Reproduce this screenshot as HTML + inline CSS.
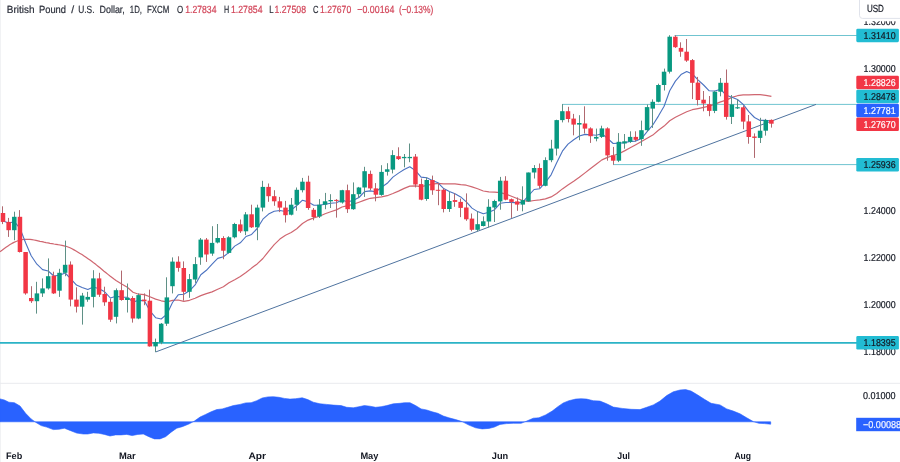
<!DOCTYPE html>
<html lang="en"><head><meta charset="utf-8"><title>GBPUSD chart</title>
<style>html,body{margin:0;padding:0;background:#fff}svg{display:block}text{font-family:"Liberation Sans",sans-serif;text-rendering:geometricPrecision}</style></head><body>
<svg width="900" height="462" viewBox="0 0 900 462">
<rect width="900" height="462" fill="#fff"/>
<rect x="0" y="0" width="1" height="462" fill="#f1f2f4"/>
<rect x="0" y="382.8" width="900" height="1" fill="#e9eaee"/>
<g stroke="#68c1cd" stroke-width="0.95" fill="none">
<line x1="674.5" y1="35.5" x2="857" y2="35.5"/>
<line x1="562" y1="104.4" x2="857" y2="104.4"/>
<line x1="613" y1="164.6" x2="857" y2="164.6"/>
</g>
<line x1="0" y1="342.9" x2="857" y2="342.9" stroke="#2bb3c6" stroke-width="1.9"/>
<line x1="155.6" y1="352" x2="816" y2="104.4" stroke="#4f739f" stroke-width="1"/>
<path d="M0.0,251.8 L2.0,250.3 L4.0,248.7 L6.0,247.3 L8.0,245.9 L10.0,244.6 L12.0,243.4 L14.0,242.4 L16.0,241.5 L18.0,240.7 L20.0,240.1 L22.0,239.7 L24.0,239.4 L26.0,239.3 L28.0,239.3 L30.0,239.4 L32.0,239.7 L34.0,240.0 L36.0,240.4 L38.0,240.8 L40.0,241.3 L42.0,241.7 L44.0,242.2 L46.0,242.6 L48.0,242.9 L50.0,243.3 L52.0,243.6 L54.0,244.0 L56.0,244.3 L58.0,244.7 L60.0,245.0 L62.0,245.4 L64.0,245.8 L66.0,246.3 L68.0,247.0 L70.0,247.8 L72.0,248.8 L74.0,249.9 L76.0,251.0 L78.0,252.2 L80.0,253.4 L82.0,254.6 L84.0,255.9 L86.0,257.3 L88.0,258.7 L90.0,260.1 L92.0,261.5 L94.0,263.1 L96.0,264.6 L98.0,266.2 L100.0,267.8 L102.0,269.5 L104.0,271.2 L106.0,272.8 L108.0,274.4 L110.0,276.0 L112.0,277.5 L114.0,279.0 L116.0,280.4 L121.7,284.1 L127.3,287.3 L133.0,292.2 L138.6,294.2 L144.2,294.6 L149.9,296.8 L155.6,299.1 L161.2,300.8 L166.9,301.8 L172.5,300.3 L178.2,300.0 L183.8,301.3 L189.5,300.3 L195.1,298.3 L200.8,295.6 L206.4,293.6 L212.1,291.9 L217.7,289.2 L223.4,286.8 L229.0,282.8 L234.7,279.7 L240.3,276.4 L246.0,272.5 L251.6,268.1 L257.2,263.9 L262.9,258.5 L268.6,251.3 L274.2,244.6 L279.9,239.1 L285.5,235.2 L291.2,232.5 L296.8,228.8 L302.5,223.5 L308.1,220.1 L313.8,217.9 L319.4,216.2 L325.1,213.7 L330.7,211.7 L336.4,209.9 L342.0,207.0 L347.7,205.7 L353.3,204.3 L359.0,202.2 L364.6,200.1 L370.2,198.3 L375.9,197.7 L381.6,196.9 L387.2,195.7 L392.9,193.5 L398.5,191.1 L404.2,188.4 L409.8,186.1 L415.5,185.8 L421.1,186.7 L426.8,185.4 L432.4,184.1 L438.1,183.4 L443.7,183.8 L449.4,183.8 L455.0,183.9 L460.7,184.7 L466.3,185.2 L472.0,186.9 L477.6,188.7 L483.3,191.0 L488.9,191.9 L494.6,192.2 L500.2,192.6 L505.9,194.1 L511.5,196.3 L517.1,198.5 L522.8,200.5 L528.5,201.3 L534.1,200.5 L539.8,199.8 L545.4,198.9 L551.1,196.9 L556.7,193.5 L562.4,188.9 L568.0,185.0 L573.7,181.3 L579.3,177.3 L585.0,172.9 L590.6,168.5 L596.2,164.3 L601.9,159.9 L607.6,157.4 L613.2,155.5 L618.9,153.7 L624.5,150.9 L630.2,147.8 L635.8,144.7 L641.5,141.4 L647.1,138.3 L652.8,135.1 L658.4,130.3 L664.1,126.1 L669.7,120.8 L675.4,117.3 L681.0,114.5 L686.7,111.7 L692.3,109.7 L698.0,108.6 L703.6,107.4 L709.2,106.2 L714.9,104.1 L720.6,101.9 L726.2,100.1 L731.9,97.4 L737.5,95.7 L743.2,94.8 L748.8,94.8 L754.5,94.7 L760.1,94.7 L765.8,95.3 L771.4,96.4" fill="none" stroke="#cf6670" stroke-width="1.2" stroke-linejoin="round"/>
<path d="M3.0,221.0 L8.7,223.0 L14.3,221.7 L20.0,228.4 L25.6,242.8 L31.2,255.8 L36.9,264.2 L42.6,269.6 L48.2,271.0 L53.9,276.0 L59.5,275.3 L65.2,273.0 L70.8,278.9 L76.5,285.1 L82.1,287.4 L87.8,289.5 L93.4,287.0 L99.1,288.7 L104.7,291.8 L110.4,298.0 L116.0,296.2 L121.7,297.1 L127.3,297.2 L133.0,302.0 L138.6,300.4 L144.2,300.6 L149.9,310.8 L155.6,317.7 L161.2,319.0 L166.9,314.2 L172.5,302.5 L178.2,294.8 L183.8,294.2 L189.5,290.8 L195.1,284.9 L200.8,274.8 L206.4,270.3 L212.1,264.2 L217.7,258.4 L223.4,256.7 L229.0,252.4 L234.7,246.1 L240.3,242.8 L246.0,236.5 L251.6,234.4 L257.2,228.5 L262.9,219.2 L268.6,214.1 L274.2,211.3 L279.9,210.5 L285.5,211.5 L291.2,210.0 L296.8,205.5 L302.5,200.2 L308.1,201.9 L313.8,205.3 L319.4,205.2 L325.1,204.3 L330.7,203.3 L336.4,202.8 L342.0,200.0 L347.7,202.0 L353.3,200.3 L359.0,197.5 L364.6,191.6 L370.2,190.9 L375.9,191.7 L381.6,187.3 L387.2,183.3 L392.9,177.1 L398.5,173.1 L404.2,169.5 L409.8,166.7 L415.5,170.6 L421.1,177.1 L426.8,177.7 L432.4,180.5 L438.1,182.8 L443.7,188.6 L449.4,191.4 L455.0,193.7 L460.7,196.9 L466.3,201.8 L472.0,208.1 L477.6,211.6 L483.3,213.8 L488.9,212.2 L494.6,209.7 L500.2,203.3 L505.9,202.5 L511.5,202.4 L517.1,202.9 L522.8,202.2 L528.5,195.6 L534.1,189.5 L539.8,188.7 L545.4,182.3 L551.1,174.8 L556.7,162.7 L562.4,151.2 L568.0,144.1 L573.7,139.7 L579.3,136.0 L585.0,134.4 L590.6,134.8 L596.2,135.2 L601.9,133.7 L607.6,138.5 L613.2,143.5 L618.9,143.1 L624.5,142.7 L630.2,141.4 L635.8,141.1 L641.5,138.6 L647.1,131.6 L652.8,125.0 L658.4,116.1 L664.1,106.2 L669.7,90.8 L675.4,81.1 L681.0,74.6 L686.7,71.5 L692.3,74.0 L698.0,79.8 L703.6,85.0 L709.2,90.8 L714.9,91.0 L720.6,89.2 L726.2,95.3 L731.9,97.3 L737.5,99.5 L743.2,104.4 L748.8,111.7 L754.5,117.5 L760.1,120.4 L765.8,120.3 L771.4,121.1" fill="none" stroke="#4b72c0" stroke-width="1.1" stroke-linejoin="round"/>
<g>
<rect x="2" y="206.3" width="1" height="17.8" fill="#b0686f"/>
<rect x="0.75" y="213.0" width="4.5" height="8.9" fill="#f23645"/>
<rect x="8" y="217.9" width="1" height="19.0" fill="#b0686f"/>
<rect x="6.40" y="221.9" width="4.5" height="8.3" fill="#f23645"/>
<rect x="14" y="211.7" width="1" height="28.5" fill="#5f9086"/>
<rect x="12.05" y="216.8" width="4.5" height="13.4" fill="#089981"/>
<rect x="19" y="210.1" width="1" height="42.4" fill="#b0686f"/>
<rect x="17.70" y="216.8" width="4.5" height="35.2" fill="#f23645"/>
<rect x="25" y="252.0" width="1" height="42.7" fill="#b0686f"/>
<rect x="23.35" y="252.0" width="4.5" height="41.4" fill="#f23645"/>
<rect x="31" y="286.2" width="1" height="16.7" fill="#b0686f"/>
<rect x="29.00" y="298.0" width="4.5" height="3.2" fill="#f23645"/>
<rect x="36" y="281.8" width="1" height="31.8" fill="#5f9086"/>
<rect x="34.65" y="293.4" width="4.5" height="7.8" fill="#089981"/>
<rect x="42" y="278.4" width="1" height="18.5" fill="#5f9086"/>
<rect x="40.30" y="288.4" width="4.5" height="5.0" fill="#089981"/>
<rect x="48" y="258.4" width="1" height="31.2" fill="#5f9086"/>
<rect x="45.95" y="276.2" width="4.5" height="12.2" fill="#089981"/>
<rect x="53" y="271.7" width="1" height="22.3" fill="#b0686f"/>
<rect x="51.60" y="275.7" width="4.5" height="17.7" fill="#f23645"/>
<rect x="59" y="268.8" width="1" height="28.1" fill="#5f9086"/>
<rect x="57.25" y="272.8" width="4.5" height="17.9" fill="#089981"/>
<rect x="65" y="240.6" width="1" height="35.6" fill="#5f9086"/>
<rect x="62.90" y="264.8" width="4.5" height="8.0" fill="#089981"/>
<rect x="70" y="261.4" width="1" height="44.9" fill="#b0686f"/>
<rect x="68.55" y="264.6" width="4.5" height="35.0" fill="#f23645"/>
<rect x="76" y="287.3" width="1" height="25.2" fill="#b0686f"/>
<rect x="74.20" y="299.6" width="4.5" height="7.1" fill="#f23645"/>
<rect x="82" y="292.9" width="1" height="31.7" fill="#5f9086"/>
<rect x="79.85" y="295.6" width="4.5" height="11.1" fill="#089981"/>
<rect x="87" y="291.8" width="1" height="10.0" fill="#5f9086"/>
<rect x="85.50" y="296.9" width="4.5" height="2.7" fill="#089981"/>
<rect x="93" y="270.2" width="1" height="37.2" fill="#5f9086"/>
<rect x="91.15" y="278.4" width="4.5" height="18.5" fill="#089981"/>
<rect x="99" y="272.8" width="1" height="24.1" fill="#b0686f"/>
<rect x="96.80" y="278.4" width="4.5" height="16.3" fill="#f23645"/>
<rect x="104" y="286.7" width="1" height="19.1" fill="#b0686f"/>
<rect x="102.45" y="294.0" width="4.5" height="8.3" fill="#f23645"/>
<rect x="110" y="298.5" width="1" height="23.4" fill="#b0686f"/>
<rect x="108.10" y="301.8" width="4.5" height="17.9" fill="#f23645"/>
<rect x="116" y="288.4" width="1" height="35.0" fill="#5f9086"/>
<rect x="113.75" y="290.2" width="4.5" height="26.6" fill="#089981"/>
<rect x="121" y="270.6" width="1" height="30.1" fill="#b0686f"/>
<rect x="119.40" y="290.2" width="4.5" height="9.8" fill="#f23645"/>
<rect x="127" y="283.5" width="1" height="29.0" fill="#5f9086"/>
<rect x="125.05" y="297.8" width="4.5" height="2.2" fill="#089981"/>
<rect x="132" y="296.2" width="1" height="26.4" fill="#b0686f"/>
<rect x="130.70" y="298.0" width="4.5" height="20.5" fill="#f23645"/>
<rect x="138" y="293.4" width="1" height="25.8" fill="#5f9086"/>
<rect x="136.35" y="295.1" width="4.5" height="23.4" fill="#089981"/>
<rect x="144" y="293.4" width="1" height="11.8" fill="#b0686f"/>
<rect x="142.00" y="299.6" width="4.5" height="1.6" fill="#f23645"/>
<rect x="149" y="289.6" width="1" height="57.0" fill="#b0686f"/>
<rect x="147.65" y="300.7" width="4.5" height="45.7" fill="#f23645"/>
<rect x="155" y="338.6" width="1" height="13.4" fill="#5f9086"/>
<rect x="153.30" y="342.0" width="4.5" height="4.4" fill="#089981"/>
<rect x="161" y="323.0" width="1" height="21.2" fill="#5f9086"/>
<rect x="158.95" y="323.7" width="4.5" height="18.7" fill="#089981"/>
<rect x="166" y="277.3" width="1" height="48.6" fill="#5f9086"/>
<rect x="164.60" y="297.4" width="4.5" height="26.3" fill="#089981"/>
<rect x="172" y="257.4" width="1" height="36.0" fill="#5f9086"/>
<rect x="170.25" y="261.6" width="4.5" height="24.6" fill="#089981"/>
<rect x="178" y="256.3" width="1" height="15.4" fill="#b0686f"/>
<rect x="175.90" y="261.7" width="4.5" height="6.2" fill="#f23645"/>
<rect x="183" y="261.4" width="1" height="39.3" fill="#b0686f"/>
<rect x="181.55" y="268.0" width="4.5" height="23.8" fill="#f23645"/>
<rect x="189" y="274.0" width="1" height="23.8" fill="#5f9086"/>
<rect x="187.20" y="279.1" width="4.5" height="12.7" fill="#089981"/>
<rect x="195" y="257.1" width="1" height="25.8" fill="#5f9086"/>
<rect x="192.85" y="264.1" width="4.5" height="15.4" fill="#089981"/>
<rect x="200" y="238.0" width="1" height="26.8" fill="#5f9086"/>
<rect x="198.50" y="239.6" width="4.5" height="17.8" fill="#089981"/>
<rect x="206" y="238.0" width="1" height="23.9" fill="#b0686f"/>
<rect x="204.15" y="239.6" width="4.5" height="14.9" fill="#f23645"/>
<rect x="212" y="226.2" width="1" height="29.6" fill="#5f9086"/>
<rect x="209.80" y="242.9" width="4.5" height="10.7" fill="#089981"/>
<rect x="217" y="224.0" width="1" height="19.4" fill="#5f9086"/>
<rect x="215.45" y="238.0" width="4.5" height="4.5" fill="#089981"/>
<rect x="223" y="236.2" width="1" height="23.0" fill="#b0686f"/>
<rect x="221.10" y="238.0" width="4.5" height="12.7" fill="#f23645"/>
<rect x="228" y="236.2" width="1" height="17.4" fill="#5f9086"/>
<rect x="226.75" y="237.3" width="4.5" height="15.6" fill="#089981"/>
<rect x="234" y="222.8" width="1" height="15.6" fill="#5f9086"/>
<rect x="232.40" y="224.0" width="4.5" height="13.3" fill="#089981"/>
<rect x="240" y="219.5" width="1" height="13.4" fill="#b0686f"/>
<rect x="238.05" y="224.4" width="4.5" height="6.9" fill="#f23645"/>
<rect x="245" y="212.1" width="1" height="23.0" fill="#5f9086"/>
<rect x="243.70" y="214.4" width="4.5" height="16.9" fill="#089981"/>
<rect x="251" y="204.7" width="1" height="23.3" fill="#b0686f"/>
<rect x="249.35" y="214.3" width="4.5" height="13.0" fill="#f23645"/>
<rect x="257" y="204.7" width="1" height="35.5" fill="#5f9086"/>
<rect x="255.00" y="207.6" width="4.5" height="19.7" fill="#089981"/>
<rect x="262" y="180.8" width="1" height="30.6" fill="#5f9086"/>
<rect x="260.65" y="186.9" width="4.5" height="20.7" fill="#089981"/>
<rect x="268" y="183.5" width="1" height="18.3" fill="#b0686f"/>
<rect x="266.30" y="186.9" width="4.5" height="9.3" fill="#f23645"/>
<rect x="274" y="190.2" width="1" height="15.6" fill="#b0686f"/>
<rect x="271.95" y="196.2" width="4.5" height="5.1" fill="#f23645"/>
<rect x="279" y="196.9" width="1" height="15.2" fill="#b0686f"/>
<rect x="277.60" y="201.3" width="4.5" height="6.3" fill="#f23645"/>
<rect x="285" y="200.9" width="1" height="21.6" fill="#b0686f"/>
<rect x="283.25" y="207.6" width="4.5" height="7.6" fill="#f23645"/>
<rect x="291" y="198.0" width="1" height="17.4" fill="#5f9086"/>
<rect x="288.90" y="204.7" width="4.5" height="10.0" fill="#089981"/>
<rect x="296" y="187.5" width="1" height="23.2" fill="#5f9086"/>
<rect x="294.55" y="189.8" width="4.5" height="14.9" fill="#089981"/>
<rect x="302" y="177.9" width="1" height="14.5" fill="#5f9086"/>
<rect x="300.20" y="181.7" width="4.5" height="8.5" fill="#089981"/>
<rect x="308" y="175.7" width="1" height="34.1" fill="#b0686f"/>
<rect x="305.85" y="181.7" width="4.5" height="26.3" fill="#f23645"/>
<rect x="313" y="208.0" width="1" height="12.3" fill="#b0686f"/>
<rect x="311.50" y="209.8" width="4.5" height="7.2" fill="#f23645"/>
<rect x="319" y="199.1" width="1" height="18.9" fill="#5f9086"/>
<rect x="317.15" y="204.7" width="4.5" height="11.8" fill="#089981"/>
<rect x="325" y="192.9" width="1" height="16.3" fill="#5f9086"/>
<rect x="322.80" y="201.3" width="4.5" height="3.4" fill="#089981"/>
<rect x="330" y="194.2" width="1" height="13.8" fill="#5f9086"/>
<rect x="328.45" y="200.0" width="4.5" height="1.3" fill="#089981"/>
<rect x="336" y="199.1" width="1" height="18.5" fill="#b0686f"/>
<rect x="334.10" y="199.9" width="4.5" height="1.0" fill="#f23645"/>
<rect x="342" y="189.8" width="1" height="13.8" fill="#5f9086"/>
<rect x="339.75" y="190.2" width="4.5" height="12.3" fill="#089981"/>
<rect x="347" y="184.6" width="1" height="28.3" fill="#b0686f"/>
<rect x="345.40" y="190.2" width="4.5" height="19.0" fill="#f23645"/>
<rect x="353" y="182.4" width="1" height="27.4" fill="#5f9086"/>
<rect x="351.05" y="194.2" width="4.5" height="15.0" fill="#089981"/>
<rect x="358" y="186.9" width="1" height="11.1" fill="#5f9086"/>
<rect x="356.70" y="187.5" width="4.5" height="6.7" fill="#089981"/>
<rect x="364" y="166.8" width="1" height="30.1" fill="#5f9086"/>
<rect x="362.35" y="171.2" width="4.5" height="16.3" fill="#089981"/>
<rect x="370" y="170.6" width="1" height="19.6" fill="#b0686f"/>
<rect x="368.00" y="173.9" width="4.5" height="14.5" fill="#f23645"/>
<rect x="375" y="183.1" width="1" height="18.2" fill="#b0686f"/>
<rect x="373.65" y="188.4" width="4.5" height="6.3" fill="#f23645"/>
<rect x="381" y="165.2" width="1" height="30.6" fill="#5f9086"/>
<rect x="379.30" y="171.9" width="4.5" height="23.0" fill="#089981"/>
<rect x="387" y="163.2" width="1" height="12.4" fill="#5f9086"/>
<rect x="384.95" y="169.3" width="4.5" height="2.5" fill="#089981"/>
<rect x="392" y="150.2" width="1" height="23.2" fill="#5f9086"/>
<rect x="390.60" y="155.1" width="4.5" height="14.5" fill="#089981"/>
<rect x="398" y="147.3" width="1" height="12.7" fill="#b0686f"/>
<rect x="396.25" y="156.2" width="4.5" height="2.9" fill="#f23645"/>
<rect x="404" y="154.0" width="1" height="13.3" fill="#5f9086"/>
<rect x="401.90" y="156.9" width="4.5" height="1.3" fill="#089981"/>
<rect x="409" y="143.5" width="1" height="18.7" fill="#5f9086"/>
<rect x="407.55" y="156.9" width="4.5" height="1.3" fill="#089981"/>
<rect x="415" y="154.0" width="1" height="33.4" fill="#b0686f"/>
<rect x="413.20" y="156.6" width="4.5" height="27.9" fill="#f23645"/>
<rect x="421" y="178.5" width="1" height="21.8" fill="#b0686f"/>
<rect x="418.85" y="184.1" width="4.5" height="15.6" fill="#f23645"/>
<rect x="426" y="177.4" width="1" height="23.4" fill="#5f9086"/>
<rect x="424.50" y="180.0" width="4.5" height="19.0" fill="#089981"/>
<rect x="432" y="175.6" width="1" height="19.2" fill="#b0686f"/>
<rect x="430.15" y="180.0" width="4.5" height="10.3" fill="#f23645"/>
<rect x="438" y="182.9" width="1" height="22.3" fill="#b0686f"/>
<rect x="435.80" y="189.8" width="4.5" height="1.0" fill="#f23645"/>
<rect x="443" y="188.5" width="1" height="23.9" fill="#b0686f"/>
<rect x="441.45" y="189.8" width="4.5" height="19.2" fill="#f23645"/>
<rect x="449" y="191.9" width="1" height="20.0" fill="#5f9086"/>
<rect x="447.10" y="201.0" width="4.5" height="8.0" fill="#089981"/>
<rect x="454" y="193.4" width="1" height="13.4" fill="#b0686f"/>
<rect x="452.75" y="200.1" width="4.5" height="1.8" fill="#f23645"/>
<rect x="460" y="198.5" width="1" height="18.6" fill="#b0686f"/>
<rect x="458.40" y="201.9" width="4.5" height="6.0" fill="#f23645"/>
<rect x="466" y="193.4" width="1" height="27.4" fill="#b0686f"/>
<rect x="464.05" y="207.5" width="4.5" height="11.8" fill="#f23645"/>
<rect x="471" y="213.5" width="1" height="17.8" fill="#b0686f"/>
<rect x="469.70" y="218.6" width="4.5" height="11.2" fill="#f23645"/>
<rect x="477" y="211.3" width="1" height="20.0" fill="#5f9086"/>
<rect x="475.35" y="224.2" width="4.5" height="5.6" fill="#089981"/>
<rect x="483" y="216.4" width="1" height="10.0" fill="#5f9086"/>
<rect x="481.00" y="221.3" width="4.5" height="4.7" fill="#089981"/>
<rect x="488" y="199.2" width="1" height="28.3" fill="#5f9086"/>
<rect x="486.65" y="206.8" width="4.5" height="14.7" fill="#089981"/>
<rect x="494" y="199.7" width="1" height="22.3" fill="#5f9086"/>
<rect x="492.30" y="201.0" width="4.5" height="6.5" fill="#089981"/>
<rect x="500" y="176.9" width="1" height="32.8" fill="#5f9086"/>
<rect x="497.95" y="180.7" width="4.5" height="20.7" fill="#089981"/>
<rect x="505" y="176.2" width="1" height="24.1" fill="#b0686f"/>
<rect x="503.60" y="180.7" width="4.5" height="19.0" fill="#f23645"/>
<rect x="511" y="198.5" width="1" height="19.4" fill="#b0686f"/>
<rect x="509.25" y="199.2" width="4.5" height="2.7" fill="#f23645"/>
<rect x="517" y="197.4" width="1" height="13.4" fill="#b0686f"/>
<rect x="514.90" y="201.4" width="4.5" height="3.2" fill="#f23645"/>
<rect x="522" y="186.3" width="1" height="25.0" fill="#5f9086"/>
<rect x="520.55" y="200.1" width="4.5" height="4.5" fill="#089981"/>
<rect x="528" y="172.5" width="1" height="29.4" fill="#5f9086"/>
<rect x="526.20" y="172.5" width="4.5" height="28.9" fill="#089981"/>
<rect x="534" y="165.1" width="1" height="13.4" fill="#5f9086"/>
<rect x="531.85" y="168.0" width="4.5" height="4.5" fill="#089981"/>
<rect x="539" y="163.5" width="1" height="25.0" fill="#b0686f"/>
<rect x="537.50" y="168.0" width="4.5" height="17.8" fill="#f23645"/>
<rect x="545" y="157.3" width="1" height="29.0" fill="#5f9086"/>
<rect x="543.15" y="160.1" width="4.5" height="25.7" fill="#089981"/>
<rect x="551" y="139.8" width="1" height="22.4" fill="#5f9086"/>
<rect x="548.80" y="148.6" width="4.5" height="11.6" fill="#089981"/>
<rect x="556" y="119.7" width="1" height="35.8" fill="#5f9086"/>
<rect x="554.45" y="120.1" width="4.5" height="28.5" fill="#089981"/>
<rect x="562" y="104.1" width="1" height="18.3" fill="#5f9086"/>
<rect x="560.10" y="111.2" width="4.5" height="8.9" fill="#089981"/>
<rect x="568" y="106.8" width="1" height="15.6" fill="#b0686f"/>
<rect x="565.75" y="111.2" width="4.5" height="7.8" fill="#f23645"/>
<rect x="573" y="113.9" width="1" height="21.4" fill="#b0686f"/>
<rect x="571.40" y="118.6" width="4.5" height="6.0" fill="#f23645"/>
<rect x="579" y="115.2" width="1" height="25.0" fill="#5f9086"/>
<rect x="577.05" y="123.0" width="4.5" height="1.6" fill="#089981"/>
<rect x="584" y="106.3" width="1" height="27.2" fill="#b0686f"/>
<rect x="582.70" y="123.5" width="4.5" height="5.1" fill="#f23645"/>
<rect x="590" y="127.3" width="1" height="15.6" fill="#b0686f"/>
<rect x="588.35" y="128.4" width="4.5" height="7.8" fill="#f23645"/>
<rect x="596" y="128.6" width="1" height="12.7" fill="#5f9086"/>
<rect x="594.00" y="136.9" width="4.5" height="1.7" fill="#089981"/>
<rect x="601" y="125.7" width="1" height="12.3" fill="#5f9086"/>
<rect x="599.65" y="128.4" width="4.5" height="8.5" fill="#089981"/>
<rect x="607" y="127.3" width="1" height="33.4" fill="#b0686f"/>
<rect x="605.30" y="128.4" width="4.5" height="27.0" fill="#f23645"/>
<rect x="613" y="146.9" width="1" height="17.8" fill="#b0686f"/>
<rect x="610.95" y="155.4" width="4.5" height="5.3" fill="#f23645"/>
<rect x="618" y="133.1" width="1" height="29.0" fill="#5f9086"/>
<rect x="616.60" y="141.8" width="4.5" height="18.9" fill="#089981"/>
<rect x="624" y="134.0" width="1" height="14.7" fill="#5f9086"/>
<rect x="622.25" y="141.3" width="4.5" height="2.2" fill="#089981"/>
<rect x="630" y="131.3" width="1" height="11.6" fill="#5f9086"/>
<rect x="627.90" y="136.9" width="4.5" height="4.9" fill="#089981"/>
<rect x="635" y="131.3" width="1" height="10.0" fill="#b0686f"/>
<rect x="633.55" y="136.9" width="4.5" height="2.9" fill="#f23645"/>
<rect x="641" y="120.6" width="1" height="25.2" fill="#5f9086"/>
<rect x="639.20" y="130.2" width="4.5" height="8.9" fill="#089981"/>
<rect x="647" y="104.5" width="1" height="27.2" fill="#5f9086"/>
<rect x="644.85" y="107.1" width="4.5" height="23.1" fill="#089981"/>
<rect x="652" y="99.4" width="1" height="28.5" fill="#5f9086"/>
<rect x="650.50" y="101.8" width="4.5" height="6.8" fill="#089981"/>
<rect x="658" y="83.7" width="1" height="18.6" fill="#5f9086"/>
<rect x="656.15" y="85.0" width="4.5" height="16.8" fill="#089981"/>
<rect x="664" y="68.6" width="1" height="21.9" fill="#5f9086"/>
<rect x="661.80" y="71.7" width="4.5" height="13.3" fill="#089981"/>
<rect x="669" y="35.2" width="1" height="38.3" fill="#5f9086"/>
<rect x="667.45" y="36.7" width="4.5" height="35.0" fill="#089981"/>
<rect x="675" y="35.2" width="1" height="12.7" fill="#b0686f"/>
<rect x="673.10" y="36.7" width="4.5" height="10.5" fill="#f23645"/>
<rect x="680" y="42.3" width="1" height="14.5" fill="#b0686f"/>
<rect x="678.75" y="47.9" width="4.5" height="3.8" fill="#f23645"/>
<rect x="686" y="39.0" width="1" height="22.9" fill="#b0686f"/>
<rect x="684.40" y="51.7" width="4.5" height="8.9" fill="#f23645"/>
<rect x="692" y="59.0" width="1" height="40.1" fill="#b0686f"/>
<rect x="690.05" y="60.1" width="4.5" height="22.7" fill="#f23645"/>
<rect x="697" y="76.9" width="1" height="28.5" fill="#b0686f"/>
<rect x="695.70" y="82.6" width="4.5" height="17.4" fill="#f23645"/>
<rect x="703" y="91.0" width="1" height="20.3" fill="#b0686f"/>
<rect x="701.35" y="99.7" width="4.5" height="3.8" fill="#f23645"/>
<rect x="709" y="96.0" width="1" height="20.2" fill="#b0686f"/>
<rect x="707.00" y="104.2" width="4.5" height="6.7" fill="#f23645"/>
<rect x="714" y="90.8" width="1" height="22.3" fill="#5f9086"/>
<rect x="712.65" y="91.7" width="4.5" height="19.2" fill="#089981"/>
<rect x="720" y="78.0" width="1" height="18.3" fill="#5f9086"/>
<rect x="718.30" y="82.8" width="4.5" height="8.9" fill="#089981"/>
<rect x="726" y="69.5" width="1" height="50.1" fill="#b0686f"/>
<rect x="723.95" y="82.8" width="4.5" height="34.1" fill="#f23645"/>
<rect x="731" y="95.0" width="1" height="29.0" fill="#5f9086"/>
<rect x="729.60" y="104.4" width="4.5" height="12.5" fill="#089981"/>
<rect x="737" y="99.2" width="1" height="9.8" fill="#5f9086"/>
<rect x="735.25" y="107.2" width="4.5" height="1.2" fill="#089981"/>
<rect x="743" y="105.5" width="1" height="23.7" fill="#b0686f"/>
<rect x="740.90" y="107.3" width="4.5" height="14.3" fill="#f23645"/>
<rect x="748" y="115.0" width="1" height="28.7" fill="#b0686f"/>
<rect x="746.55" y="121.4" width="4.5" height="15.6" fill="#f23645"/>
<rect x="754" y="133.4" width="1" height="24.5" fill="#b0686f"/>
<rect x="752.20" y="136.5" width="4.5" height="1.4" fill="#f23645"/>
<rect x="760" y="117.8" width="1" height="25.2" fill="#5f9086"/>
<rect x="757.85" y="130.7" width="4.5" height="7.2" fill="#089981"/>
<rect x="765" y="118.9" width="1" height="16.7" fill="#5f9086"/>
<rect x="763.50" y="120.0" width="4.5" height="10.7" fill="#089981"/>
<rect x="771" y="119.4" width="1" height="8.2" fill="#b0686f"/>
<rect x="769.15" y="119.9" width="4.5" height="3.8" fill="#f23645"/>
</g>
<path d="M0,421.8 L0.0,398.9 L4.4,400.0 L8.9,402.2 L14.4,402.7 L20.0,406.0 L25.6,413.3 L31.1,418.9 L35.6,422.2 L41.1,425.6 L46.7,427.1 L53.3,429.6 L58.9,429.3 L64.4,428.2 L70.0,430.4 L76.7,433.1 L83.3,434.0 L87.8,434.0 L93.3,432.9 L98.9,433.3 L104.4,434.4 L110.0,436.0 L115.6,434.9 L121.1,434.9 L126.7,434.4 L132.2,435.6 L137.8,434.4 L143.3,434.0 L148.9,436.7 L154.4,438.9 L160.0,438.9 L165.6,436.7 L171.1,432.2 L176.7,428.2 L182.2,426.7 L188.9,424.0 L194.4,421.1 L200.0,417.1 L205.6,414.4 L211.1,411.8 L216.7,409.6 L222.2,408.9 L227.8,407.3 L233.3,405.6 L240.0,404.4 L245.6,402.9 L251.1,402.7 L256.7,400.7 L262.2,398.0 L267.8,396.9 L273.3,396.7 L278.9,397.3 L284.4,398.4 L290.0,399.1 L295.6,398.7 L302.2,397.8 L307.8,399.6 L313.3,402.2 L320.0,403.8 L326.7,404.4 L333.3,405.1 L341.1,405.6 L346.7,407.3 L353.3,407.8 L358.9,406.7 L364.4,405.6 L370.0,406.2 L375.6,407.3 L381.1,406.7 L386.7,405.6 L393.3,403.8 L400.0,403.3 L404.4,402.7 L410.0,402.7 L415.6,405.6 L421.1,408.9 L426.7,410.0 L432.2,411.8 L437.8,413.3 L443.3,416.0 L448.9,417.8 L455.6,419.6 L462.2,421.6 L468.9,425.1 L475.6,427.8 L482.2,428.9 L488.9,428.4 L494.4,427.1 L500.0,424.4 L506.7,423.6 L513.3,423.3 L521.1,423.3 L526.7,421.1 L533.3,418.2 L538.9,417.8 L545.6,414.9 L552.2,411.1 L557.8,406.7 L563.3,402.9 L568.9,400.7 L575.6,399.1 L581.1,398.7 L586.7,399.1 L593.3,400.7 L600.0,401.1 L606.7,403.8 L613.3,407.1 L622.2,408.4 L631.1,409.3 L640.0,409.6 L646.7,407.3 L653.3,404.9 L660.0,401.1 L666.7,395.6 L673.3,391.8 L680.0,390.0 L685.6,389.6 L691.1,391.1 L697.8,395.1 L704.4,399.3 L711.1,403.3 L720.0,404.9 L726.7,408.9 L733.3,411.1 L740.0,413.8 L746.7,417.8 L753.3,421.6 L758.9,423.3 L764.4,423.6 L770.7,424.2 L770.7,421.8 Z" fill="#2962ff" stroke="#2962ff" stroke-width="0.6" stroke-linejoin="round"/>
<text x="6.8" y="12.5" font-size="10.4" fill="#2a2e39" stroke="#2a2e39" stroke-width="0.2" font-weight="normal" text-anchor="start" textLength="27.7" lengthAdjust="spacingAndGlyphs">British</text>
<text x="39" y="12.5" font-size="10.4" fill="#2a2e39" stroke="#2a2e39" stroke-width="0.2" font-weight="normal" text-anchor="start" textLength="27" lengthAdjust="spacingAndGlyphs">Pound</text>
<text x="71.3" y="12.5" font-size="10.4" fill="#2a2e39" stroke="#2a2e39" stroke-width="0.2" font-weight="normal" text-anchor="start">/</text>
<text x="78.2" y="12.5" font-size="10.4" fill="#2a2e39" stroke="#2a2e39" stroke-width="0.2" font-weight="normal" text-anchor="start" textLength="16.3" lengthAdjust="spacingAndGlyphs">U.S.</text>
<text x="99.5" y="12.5" font-size="10.4" fill="#2a2e39" stroke="#2a2e39" stroke-width="0.2" font-weight="normal" text-anchor="start" textLength="25.3" lengthAdjust="spacingAndGlyphs">Dollar,</text>
<text x="129.8" y="12.5" font-size="10.4" fill="#2a2e39" stroke="#2a2e39" stroke-width="0.2" font-weight="normal" text-anchor="start" textLength="12.2" lengthAdjust="spacingAndGlyphs">1D,</text>
<text x="147" y="12.5" font-size="10.4" fill="#2a2e39" stroke="#2a2e39" stroke-width="0.2" font-weight="normal" text-anchor="start" textLength="22.3" lengthAdjust="spacingAndGlyphs">FXCM</text>
<text x="177" y="12.5" font-size="10.4" fill="#2a2e39" stroke="#2a2e39" stroke-width="0.2" font-weight="normal" text-anchor="start" textLength="6.2" lengthAdjust="spacingAndGlyphs">O</text>
<text x="185.2" y="12.5" font-size="10.4" fill="#d24458" stroke="#d24458" stroke-width="0.2" font-weight="normal" text-anchor="start" textLength="31.3" lengthAdjust="spacingAndGlyphs">1.27834</text>
<text x="224" y="12.5" font-size="10.4" fill="#2a2e39" stroke="#2a2e39" stroke-width="0.2" font-weight="normal" text-anchor="start" textLength="5.2" lengthAdjust="spacingAndGlyphs">H</text>
<text x="231" y="12.5" font-size="10.4" fill="#d24458" stroke="#d24458" stroke-width="0.2" font-weight="normal" text-anchor="start" textLength="31.5" lengthAdjust="spacingAndGlyphs">1.27854</text>
<text x="269.2" y="12.5" font-size="10.4" fill="#2a2e39" stroke="#2a2e39" stroke-width="0.2" font-weight="normal" text-anchor="start" textLength="4.3" lengthAdjust="spacingAndGlyphs">L</text>
<text x="274.5" y="12.5" font-size="10.4" fill="#d24458" stroke="#d24458" stroke-width="0.2" font-weight="normal" text-anchor="start" textLength="31.5" lengthAdjust="spacingAndGlyphs">1.27508</text>
<text x="313" y="12.5" font-size="10.4" fill="#2a2e39" stroke="#2a2e39" stroke-width="0.2" font-weight="normal" text-anchor="start" textLength="5.5" lengthAdjust="spacingAndGlyphs">C</text>
<text x="320" y="12.5" font-size="10.4" fill="#d24458" stroke="#d24458" stroke-width="0.2" font-weight="normal" text-anchor="start" textLength="31.2" lengthAdjust="spacingAndGlyphs">1.27670</text>
<text x="357.3" y="12.5" font-size="10.4" fill="#d24458" stroke="#d24458" stroke-width="0.2" font-weight="normal" text-anchor="start" textLength="37.1" lengthAdjust="spacingAndGlyphs">−0.00164</text>
<text x="398.9" y="12.5" font-size="10.4" fill="#d24458" stroke="#d24458" stroke-width="0.2" font-weight="normal" text-anchor="start" textLength="34.4" lengthAdjust="spacingAndGlyphs">(−0.13%)</text>
<text x="863.6" y="24.55" font-size="10.0" fill="#131722" stroke="#131722" stroke-width="0.2" font-weight="normal" text-anchor="start" textLength="32" lengthAdjust="spacingAndGlyphs">1.32000</text>
<text x="863.6" y="72.10000000000001" font-size="10.0" fill="#131722" stroke="#131722" stroke-width="0.2" font-weight="normal" text-anchor="start" textLength="32" lengthAdjust="spacingAndGlyphs">1.30000</text>
<text x="863.6" y="213.54999999999998" font-size="10.0" fill="#131722" stroke="#131722" stroke-width="0.2" font-weight="normal" text-anchor="start" textLength="32" lengthAdjust="spacingAndGlyphs">1.24000</text>
<text x="863.6" y="260.7" font-size="10.0" fill="#131722" stroke="#131722" stroke-width="0.2" font-weight="normal" text-anchor="start" textLength="32" lengthAdjust="spacingAndGlyphs">1.22000</text>
<text x="863.6" y="307.84999999999997" font-size="10.0" fill="#131722" stroke="#131722" stroke-width="0.2" font-weight="normal" text-anchor="start" textLength="32" lengthAdjust="spacingAndGlyphs">1.20000</text>
<text x="863.6" y="355.0" font-size="10.0" fill="#131722" stroke="#131722" stroke-width="0.2" font-weight="normal" text-anchor="start" textLength="32" lengthAdjust="spacingAndGlyphs">1.18000</text>
<text x="862.9" y="399.4" font-size="10.0" fill="#131722" stroke="#131722" stroke-width="0.2" font-weight="normal" text-anchor="start" textLength="32.7" lengthAdjust="spacingAndGlyphs">0.01000</text>
<rect x="857" y="-4" width="50" height="25.3" fill="#fff"/>
<rect x="859.5" y="-4" width="50" height="22.4" rx="3" fill="#fff" stroke="#e0e3eb" stroke-width="1"/>
<text x="866.9" y="12.4" font-size="10.4" fill="#131722" stroke="#131722" stroke-width="0.2" font-weight="normal" text-anchor="start" textLength="17" lengthAdjust="spacingAndGlyphs">USD</text>
<rect x="856.3" y="28.65" width="42.6" height="13.5" rx="1.3" fill="#22bcd3"/>
<text x="863.6" y="38.75" font-size="10.0" fill="#131722" stroke="#131722" stroke-width="0.2" font-weight="normal" text-anchor="start" textLength="32" lengthAdjust="spacingAndGlyphs">1.31410</text>
<rect x="856.3" y="75.65" width="42.6" height="13.5" rx="1.3" fill="#f23645"/>
<text x="863.6" y="85.75" font-size="10.0" fill="#fff" stroke="#fff" stroke-width="0.2" font-weight="normal" text-anchor="start" textLength="32" lengthAdjust="spacingAndGlyphs">1.28826</text>
<rect x="856.3" y="89.65" width="42.6" height="13.5" rx="1.3" fill="#22bcd3"/>
<text x="863.6" y="99.75" font-size="10.0" fill="#131722" stroke="#131722" stroke-width="0.2" font-weight="normal" text-anchor="start" textLength="32" lengthAdjust="spacingAndGlyphs">1.28478</text>
<rect x="856.3" y="103.65" width="42.6" height="13.5" rx="1.3" fill="#2962ff"/>
<text x="863.6" y="113.75" font-size="10.0" fill="#fff" stroke="#fff" stroke-width="0.2" font-weight="normal" text-anchor="start" textLength="32" lengthAdjust="spacingAndGlyphs">1.27781</text>
<rect x="856.3" y="117.55" width="42.6" height="13.5" rx="1.3" fill="#f23645"/>
<text x="863.6" y="127.64999999999999" font-size="10.0" fill="#fff" stroke="#fff" stroke-width="0.2" font-weight="normal" text-anchor="start" textLength="32" lengthAdjust="spacingAndGlyphs">1.27670</text>
<rect x="856.3" y="157.95" width="42.6" height="13.5" rx="1.3" fill="#22bcd3"/>
<text x="863.6" y="168.04999999999998" font-size="10.0" fill="#131722" stroke="#131722" stroke-width="0.2" font-weight="normal" text-anchor="start" textLength="32" lengthAdjust="spacingAndGlyphs">1.25936</text>
<rect x="856.3" y="336.10" width="42.6" height="13.5" rx="1.3" fill="#22bcd3"/>
<text x="863.6" y="346.20000000000005" font-size="10.0" fill="#131722" stroke="#131722" stroke-width="0.2" font-weight="normal" text-anchor="start" textLength="32" lengthAdjust="spacingAndGlyphs">1.18395</text>
<rect x="856.2" y="417.8" width="44" height="13.4" fill="#2962ff"/>
<text x="862.9" y="427.9" font-size="10.0" fill="#f4f7ff" stroke="#f4f7ff" stroke-width="0.2" font-weight="normal" text-anchor="start" textLength="38.3" lengthAdjust="spacingAndGlyphs">−0.00088</text>
<text x="6" y="458.9" font-size="9.4" fill="#131722" stroke="#131722" stroke-width="0" font-weight="bold" text-anchor="start" textLength="16.2" lengthAdjust="spacingAndGlyphs">Feb</text>
<text x="118.9" y="458.9" font-size="9.4" fill="#131722" stroke="#131722" stroke-width="0" font-weight="bold" text-anchor="start" textLength="16.7" lengthAdjust="spacingAndGlyphs">Mar</text>
<text x="248.4" y="458.9" font-size="9.4" fill="#131722" stroke="#131722" stroke-width="0" font-weight="bold" text-anchor="start" textLength="17.6" lengthAdjust="spacingAndGlyphs">Apr</text>
<text x="360.4" y="458.9" font-size="9.4" fill="#131722" stroke="#131722" stroke-width="0" font-weight="bold" text-anchor="start" textLength="18" lengthAdjust="spacingAndGlyphs">May</text>
<text x="491.8" y="458.9" font-size="9.4" fill="#131722" stroke="#131722" stroke-width="0" font-weight="bold" text-anchor="start" textLength="16.4" lengthAdjust="spacingAndGlyphs">Jun</text>
<text x="617.3" y="458.9" font-size="9.4" fill="#131722" stroke="#131722" stroke-width="0" font-weight="bold" text-anchor="start" textLength="12.7" lengthAdjust="spacingAndGlyphs">Jul</text>
<text x="734.4" y="458.9" font-size="9.4" fill="#131722" stroke="#131722" stroke-width="0" font-weight="bold" text-anchor="start" textLength="16.7" lengthAdjust="spacingAndGlyphs">Aug</text>
</svg></body></html>
